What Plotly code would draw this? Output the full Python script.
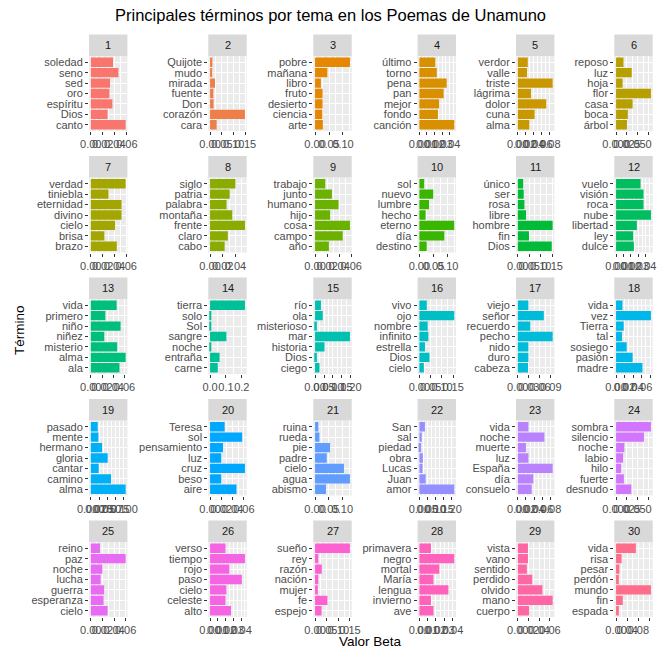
import math
import plotly.graph_objects as go

# --- data: top terms per topic (listed top to bottom) and their beta values ---
topics = list(range(1, 31))

terms = [
    ["soledad", "seno", "sed", "oro", "espíritu", "Dios", "canto"],
    ["Quijote", "mudo", "mirada", "fuente", "Don", "corazón", "cara"],
    ["pobre", "mañana", "libro", "fruto", "desierto", "ciencia", "arte"],
    ["último", "torno", "pena", "pan", "mejor", "fondo", "canción"],
    ["verdor", "valle", "triste", "lágrima", "dolor", "cuna", "alma"],
    ["reposo", "luz", "hoja", "flor", "casa", "boca", "árbol"],
    ["verdad", "tiniebla", "eternidad", "divino", "cielo", "brisa", "brazo"],
    ["siglo", "patria", "palabra", "montaña", "frente", "claro", "cabo"],
    ["trabajo", "junto", "humano", "hijo", "cosa", "campo", "año"],
    ["sol", "nuevo", "lumbre", "hecho", "eterno", "día", "destino"],
    ["único", "ser", "rosa", "libre", "hombre", "fin", "Dios"],
    ["vuelo", "visión", "roca", "nube", "libertad", "ley", "dulce"],
    ["vida", "primero", "niño", "niñez", "misterio", "alma", "ala"],
    ["tierra", "solo", "Sol", "sangre", "noche", "entraña", "carne"],
    ["río", "ola", "misterioso", "mar", "historia", "Dios", "ciego"],
    ["vivo", "ojo", "nombre", "infinito", "estrella", "Dios", "cielo"],
    ["viejo", "señor", "recuerdo", "pecho", "nido", "duro", "cabeza"],
    ["vida", "vez", "Tierra", "tal", "sosiego", "pasión", "madre"],
    ["pasado", "mente", "hermano", "gloria", "cantar", "camino", "alma"],
    ["Teresa", "sol", "pensamiento", "luz", "cruz", "beso", "aire"],
    ["ruina", "rueda", "pie", "padre", "cielo", "agua", "abismo"],
    ["San", "sal", "piedad", "obra", "Lucas", "Juan", "amor"],
    ["vida", "noche", "muerte", "luz", "España", "día", "consuelo"],
    ["sombra", "silencio", "noche", "labio", "hilo", "fuerte", "desnudo"],
    ["reino", "paz", "noche", "lucha", "guerra", "esperanza", "cielo"],
    ["verso", "tiempo", "rojo", "paso", "cielo", "celeste", "alto"],
    ["sueño", "rey", "razón", "nación", "mujer", "fe", "espejo"],
    ["primavera", "negro", "mortal", "María", "lengua", "invierno", "ave"],
    ["vista", "vano", "sentido", "perdido", "olvido", "mano", "cuerpo"],
    ["vida", "risa", "pesar", "perdón", "mundo", "fin", "espada"],
]

beta = [
    [0.037, 0.046, 0.032, 0.031, 0.036, 0.028, 0.058],
    [0.010, 0.009, 0.021, 0.014, 0.015, 0.148, 0.028],
    [0.125, 0.044, 0.021, 0.027, 0.027, 0.026, 0.028],
    [0.021, 0.023, 0.036, 0.032, 0.026, 0.0245, 0.046],
    [0.025, 0.023, 0.087, 0.033, 0.071, 0.042, 0.029],
    [0.017, 0.036, 0.015, 0.080, 0.038, 0.027, 0.025],
    [0.059, 0.030, 0.052, 0.052, 0.041, 0.023, 0.044],
    [0.040, 0.031, 0.026, 0.035, 0.055, 0.028, 0.023],
    [0.017, 0.028, 0.039, 0.025, 0.058, 0.046, 0.023],
    [0.017, 0.049, 0.034, 0.022, 0.123, 0.088, 0.026],
    [0.024, 0.026, 0.029, 0.036, 0.152, 0.049, 0.148],
    [0.033, 0.037, 0.037, 0.047, 0.028, 0.023, 0.024],
    [0.046, 0.026, 0.053, 0.024, 0.047, 0.062, 0.051],
    [0.220, 0.006, 0.007, 0.103, 0.006, 0.060, 0.049],
    [0.033, 0.043, 0.010, 0.195, 0.053, 0.010, 0.025],
    [0.033, 0.155, 0.037, 0.040, 0.025, 0.045, 0.020],
    [0.029, 0.071, 0.034, 0.095, 0.029, 0.029, 0.028],
    [0.015, 0.082, 0.018, 0.014, 0.025, 0.039, 0.062],
    [0.021, 0.023, 0.034, 0.051, 0.024, 0.061, 0.105],
    [0.026, 0.057, 0.023, 0.020, 0.062, 0.020, 0.047],
    [0.012, 0.016, 0.055, 0.043, 0.106, 0.128, 0.040],
    [0.035, 0.015, 0.011, 0.022, 0.020, 0.040, 0.220],
    [0.026, 0.065, 0.020, 0.026, 0.085, 0.038, 0.034],
    [0.080, 0.064, 0.019, 0.016, 0.012, 0.018, 0.035],
    [0.016, 0.060, 0.020, 0.017, 0.023, 0.022, 0.029],
    [0.020, 0.045, 0.025, 0.041, 0.021, 0.020, 0.027],
    [0.150, 0.014, 0.029, 0.014, 0.012, 0.053, 0.028],
    [0.014, 0.042, 0.024, 0.017, 0.035, 0.014, 0.017],
    [0.019, 0.019, 0.017, 0.027, 0.046, 0.065, 0.021],
    [0.071, 0.020, 0.012, 0.010, 0.125, 0.024, 0.010],
]

breaks = [
    [0, 0.02, 0.04, 0.06],
    [0, 0.05, 0.10, 0.15],
    [0, 0.05, 0.10],
    [0, 0.01, 0.02, 0.03, 0.04],
    [0, 0.02, 0.04, 0.06, 0.08],
    [0, 0.025, 0.05, 0.075],
    [0, 0.02, 0.04, 0.06],
    [0, 0.02, 0.04],
    [0, 0.02, 0.04, 0.06],
    [0, 0.05, 0.10],
    [0, 0.05, 0.10, 0.15],
    [0, 0.01, 0.02, 0.03, 0.04],
    [0, 0.02, 0.04, 0.06],
    [0, 0.1, 0.2],
    [0, 0.05, 0.10, 0.15, 0.20],
    [0, 0.05, 0.10, 0.15],
    [0, 0.03, 0.06, 0.09],
    [0, 0.02, 0.04, 0.06, 0.08],
    [0, 0.025, 0.05, 0.075, 0.10],
    [0, 0.02, 0.04, 0.06],
    [0, 0.05, 0.10],
    [0, 0.05, 0.10, 0.15, 0.20],
    [0, 0.02, 0.04, 0.06, 0.08],
    [0, 0.025, 0.05, 0.075],
    [0, 0.02, 0.04, 0.06],
    [0, 0.01, 0.02, 0.03, 0.04],
    [0, 0.05, 0.10, 0.15],
    [0, 0.01, 0.02, 0.03, 0.04],
    [0, 0.02, 0.04, 0.06],
    [0, 0.04, 0.08, 0.12],
]

title = "Principales términos por tema en los Poemas de Unamuno"
x_title = "Valor Beta"
y_title = "Término"


# --- ggplot-style discrete hue palette (HCL, l=65, c=100, starting at 15°) ---
def hue_palette(n, lum=65.0, chroma=100.0, h_start=15.0):
    xn, yn, zn = 95.047, 100.0, 108.883
    den = xn + 15 * yn + 3 * zn
    un, vn = 4 * xn / den, 9 * yn / den
    out = []
    for k in range(n):
        h = math.radians((h_start + 360.0 * k / n) % 360)
        u_, v_ = chroma * math.cos(h), chroma * math.sin(h)
        Y = yn * ((lum + 16) / 116) ** 3
        u = u_ / (13 * lum) + un
        v = v_ / (13 * lum) + vn
        X = 9 * Y * u / (4 * v)
        Z = -X / 3 - 5 * Y + 3 * Y / v
        X, Y, Z = X / 100, Y / 100, Z / 100
        rgb = [
            3.240479 * X - 1.537150 * Y - 0.498535 * Z,
            -0.969256 * X + 1.875992 * Y + 0.041556 * Z,
            0.055648 * X - 0.204043 * Y + 1.057311 * Z,
        ]
        chans = []
        for c in rgb:
            c = 12.92 * c if c <= 0.0031308 else 1.055 * c ** (1 / 2.4) - 0.055
            chans.append(int(round(min(max(c, 0), 1) * 255)))
        out.append("#%02X%02X%02X" % tuple(chans))
    return out


def fmt_breaks(vals):
    for d in range(1, 5):
        if all(abs(round(v, d) - v) < 1e-12 for v in vals):
            return [f"{v:.{d}f}" for v in vals]
    return [str(v) for v in vals]


colors = hue_palette(len(topics))

# --- page geometry (pixels) ---
W, H = 659, 651
col_left = [89.0, 208.3, 313.3, 417.6, 516.0, 614.3]
panel_w = 38.4
row_top = [56.0 + 121.5 * r for r in range(5)]
panel_h = 75.0
strip_h = 21.5

FONT = "Liberation Sans, Arial, sans-serif"
tick_font = dict(family=FONT, size=11, color="#4D4D4D")

fig = go.Figure()
layout = dict(
    width=W, height=H,
    margin=dict(l=0, r=0, t=0, b=0),
    paper_bgcolor="white",
    plot_bgcolor="#EBEBEB",
    showlegend=False,
    font=dict(family=FONT),
)
shapes, annotations = [], []

for i, topic in enumerate(topics):
    n = i + 1
    r, c = divmod(i, 6)
    xref = "x" if n == 1 else f"x{n}"
    yref = "y" if n == 1 else f"y{n}"
    xkey = "xaxis" if n == 1 else f"xaxis{n}"
    ykey = "yaxis" if n == 1 else f"yaxis{n}"

    left = col_left[c]
    top = row_top[r]
    x0, x1 = left / W, (left + panel_w) / W
    y1, y0 = 1 - top / H, 1 - (top + panel_h) / H

    fig.add_trace(go.Bar(
        x=beta[i], y=terms[i], orientation="h",
        xaxis=xref, yaxis=yref, width=0.9,
        marker=dict(color=colors[i], line=dict(width=0)),
        hoverinfo="skip", showlegend=False,
    ))

    vmax = max(beta[i])
    lo, hi = -0.05 * vmax, 1.05 * vmax
    br = breaks[i]
    step = br[1] - br[0]
    minor = [b + step / 2 for b in [br[0] - step] + br]
    minor = [m for m in minor if lo <= m <= hi]

    layout[xkey] = dict(
        domain=[x0, x1], anchor=yref, range=[lo, hi],
        tickmode="array", tickvals=br, ticktext=fmt_breaks(br),
        ticks="outside", ticklen=3, tickwidth=1, tickcolor="#333333",
        tickfont=tick_font, tickangle=0, automargin=False,
        showgrid=True, gridcolor="white", gridwidth=1,
        minor=dict(tickmode="array", tickvals=minor, showgrid=True,
                   gridcolor="white", gridwidth=0.5, ticks=""),
        zeroline=False, showline=False, fixedrange=True,
    )
    layout[ykey] = dict(
        domain=[y0, y1], anchor=xref, type="category",
        categoryorder="array", categoryarray=terms[i][::-1],
        range=[-0.6, len(terms[i]) - 0.4],
        tickmode="linear", tick0=0, dtick=1,
        ticks="outside", ticklen=3, tickwidth=1, tickcolor="#333333",
        tickfont=tick_font, automargin=False,
        showgrid=True, gridcolor="white", gridwidth=1,
        zeroline=False, showline=False, fixedrange=True,
    )

    # facet strip
    sy0 = y1
    sy1 = 1 - (top - strip_h) / H
    shapes.append(dict(type="rect", xref="paper", yref="paper",
                       x0=x0, x1=x1, y0=sy0, y1=sy1,
                       fillcolor="#D9D9D9", line=dict(width=0), layer="below"))
    annotations.append(dict(text=str(topic), xref="paper", yref="paper",
                            x=(x0 + x1) / 2, y=(sy0 + sy1) / 2,
                            xanchor="center", yanchor="middle", showarrow=False,
                            font=dict(family=FONT, size=11, color="#1A1A1A")))

annotations.append(dict(text=title, xref="paper", yref="paper",
                        x=330 / W, y=1 - 15 / H, xanchor="center", yanchor="middle",
                        showarrow=False, font=dict(family=FONT, size=16.5, color="black")))
annotations.append(dict(text=x_title, xref="paper", yref="paper",
                        x=370 / W, y=1 - 641 / H, xanchor="center", yanchor="middle",
                        showarrow=False, font=dict(family=FONT, size=13.5, color="black")))
annotations.append(dict(text=y_title, xref="paper", yref="paper",
                        x=19 / W, y=1 - 330 / H, xanchor="center", yanchor="middle",
                        textangle=-90, showarrow=False,
                        font=dict(family=FONT, size=13.5, color="black")))

layout["shapes"] = shapes
layout["annotations"] = annotations
fig.update_layout(**layout)

fig.write_html("out.html")
